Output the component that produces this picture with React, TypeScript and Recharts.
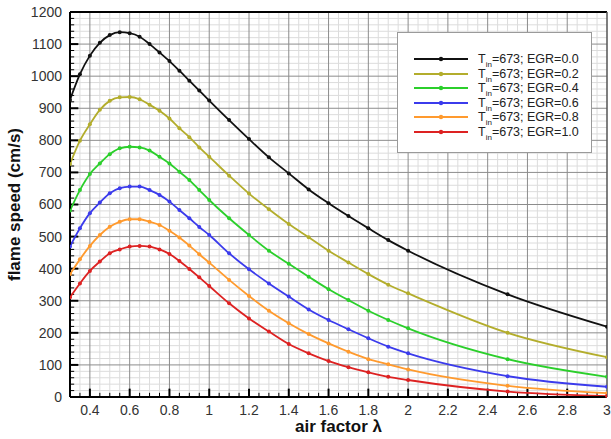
import React from 'react';
import { LineChart, Line, XAxis, YAxis, ReferenceLine } from 'recharts';

const lambda = [0.3, 0.35, 0.4, 0.45, 0.5, 0.55, 0.6, 0.65, 0.7, 0.75, 0.8, 0.85, 0.9, 0.95, 1.0, 1.1, 1.2, 1.3, 1.4, 1.5, 1.6, 1.7, 1.8, 1.9, 2.0, 2.5, 3.0];
const egr00 = [926, 1006, 1064, 1104, 1128, 1137, 1134, 1123, 1100, 1074, 1047, 1017, 986, 955, 924, 863, 804, 747, 697, 647, 604, 564, 526, 489, 456, 320, 219];
const egr02 = [726, 799, 850, 895, 923, 934, 935, 928, 911, 892, 868, 838, 810, 778, 749, 690, 634, 585, 539, 498, 456, 419, 383, 350, 323, 200, 124];
const egr04 = [581, 645, 695, 728, 757, 775, 780, 778, 768, 749, 728, 702, 676, 645, 614, 557, 505, 456, 415, 375, 336, 302, 269, 240, 214, 118, 63];
const egr06 = [469, 526, 573, 606, 635, 651, 656, 656, 645, 630, 609, 583, 557, 530, 505, 448, 398, 354, 313, 273, 240, 211, 183, 157, 136, 65, 32];
const egr08 = [383, 429, 471, 505, 531, 546, 554, 554, 546, 536, 518, 497, 472, 445, 419, 365, 315, 269, 230, 196, 167, 141, 118, 102, 86, 35, 12];
const egr10 = [311, 354, 393, 422, 448, 460, 469, 471, 469, 460, 446, 424, 399, 373, 346, 292, 245, 204, 165, 136, 112, 93, 77, 63, 53, 17, 3];

const egrLabels = ['0.0', '0.2', '0.4', '0.6', '0.8', '1.0'];
const xTicks = [0.4, 0.6, 0.8, 1, 1.2, 1.4, 1.6, 1.8, 2, 2.2, 2.4, 2.6, 2.8, 3];
const yTicks = [0, 100, 200, 300, 400, 500, 600, 700, 800, 900, 1000, 1100, 1200];

const seriesValues = [egr00, egr02, egr04, egr06, egr08, egr10];
const colors = ['#111111', '#b3ad2c', '#2bcf2b', '#3b3bec', '#ff9a2e', '#dd2222'];

const data = lambda.map((l, i) => {
  const row: any = { lambda: l };
  seriesValues.forEach((s, k) => { row['s' + k] = s[i]; });
  return row;
});

const xMinor: number[] = [];
for (let i = 0; i <= 54; i++) xMinor.push(Math.round((0.3 + i * 0.05) * 100) / 100);
const yMinor: number[] = [];
for (let i = 0; i <= 60; i++) yMinor.push(i * 20);

const isMajorX = (v: number) => Math.abs(v * 5 - Math.round(v * 5)) < 1e-6;
const isMajorY = (v: number) => v % 100 === 0;

const FONT = 'Liberation Sans, Arial, sans-serif';

const LegendBox = () => (
  <div style={{ position: 'absolute', left: 397, top: 32, width: 195, height: 121, border: '1px solid #9a9a9a', background: '#fff', boxSizing: 'border-box', fontFamily: FONT }}>
    {egrLabels.map((lab, k) => (
      <div key={k} style={{ position: 'absolute', left: 0, top: 19 + k * 14.6, height: 14, width: 195, display: 'flex', alignItems: 'center' }}>
        <svg width={56} height={14} style={{ marginLeft: 16 }}>
          <line x1={0} y1={7} x2={54} y2={7} stroke={colors[k]} strokeWidth={2} />
          <circle cx={27} cy={7} r={2.2} fill={colors[k]} />
        </svg>
        <span style={{ fontSize: 12.5, color: '#222', marginLeft: 8, whiteSpace: 'nowrap', lineHeight: '14px' }}>
          T<sub style={{ fontSize: 8, lineHeight: 0 }}>in</sub>=673; EGR={lab}
        </span>
      </div>
    ))}
  </div>
);

export default function App() {
  return (
    <div style={{ position: 'absolute', left: 0, top: 0, width: 611, height: 439, background: '#fff' }}>
      <LineChart width={611} height={439} data={data} margin={{ top: 12, right: 4, left: 0, bottom: 0 }}>
        <XAxis
          dataKey="lambda"
          type="number"
          domain={[0.3, 3]}
          ticks={xTicks}
          allowDataOverflow
          height={42}
          tickLine={false}
          axisLine={{ stroke: '#000', strokeWidth: 2 }}
          tick={{ fill: '#333', fontSize: 14, fontFamily: FONT }}
          label={{ value: 'air factor λ', position: 'insideBottom', offset: 7, style: { fontWeight: 'bold', fontSize: 17, fill: '#111', fontFamily: FONT } }}
        />
        <YAxis
          type="number"
          domain={[0, 1200]}
          ticks={yTicks}
          width={70}
          tickLine={false}
          axisLine={{ stroke: '#000', strokeWidth: 2 }}
          tick={{ fill: '#333', fontSize: 14, fontFamily: FONT }}
          label={{ value: 'flame speed (cm/s)', angle: -90, position: 'insideLeft', offset: 14, style: { textAnchor: 'middle', fontWeight: 'bold', fontSize: 17, fill: '#111', fontFamily: FONT } }}
        />
        {xMinor.filter((v) => !isMajorX(v)).map((v) => (
          <ReferenceLine key={'xm' + v} x={v} stroke="#dcdcdc" strokeWidth={1} />
        ))}
        {yMinor.filter((v) => !isMajorY(v)).map((v) => (
          <ReferenceLine key={'ym' + v} y={v} stroke="#dcdcdc" strokeWidth={1} />
        ))}
        {xTicks.filter((v) => v < 3).map((v) => (
          <ReferenceLine key={'xM' + v} x={v} stroke="#8c8c8c" strokeWidth={1} />
        ))}
        {yTicks.filter((v) => v > 0 && v < 1200).map((v) => (
          <ReferenceLine key={'yM' + v} y={v} stroke="#8c8c8c" strokeWidth={1} />
        ))}
        <ReferenceLine y={1200} stroke="#000" strokeWidth={2} />
        <ReferenceLine x={3} stroke="#555" strokeWidth={1.5} />
        {xMinor.filter((v) => v > 0.3 && v < 3).map((v) => (
          <ReferenceLine key={'xt' + v} segment={[{ x: v, y: 0 }, { x: v, y: isMajorX(v) ? 26 : 13 }]} stroke="#000" strokeWidth={isMajorX(v) ? 2 : 1} />
        ))}
        {yMinor.filter((v) => v > 0 && v < 1200).map((v) => (
          <ReferenceLine key={'yt' + v} segment={[{ x: 0.3, y: v }, { x: isMajorY(v) ? 0.342 : 0.321, y: v }]} stroke="#000" strokeWidth={isMajorY(v) ? 2 : 1} />
        ))}
        {seriesValues.map((_, k) => (
          <Line
            key={k}
            type="monotone"
            dataKey={'s' + k}
            stroke={colors[k]}
            strokeWidth={1.8}
            dot={{ r: 2, fill: colors[k], stroke: colors[k], strokeWidth: 0 }}
            isAnimationActive={false}
          />
        ))}
      </LineChart>
      <LegendBox />
    </div>
  );
}
